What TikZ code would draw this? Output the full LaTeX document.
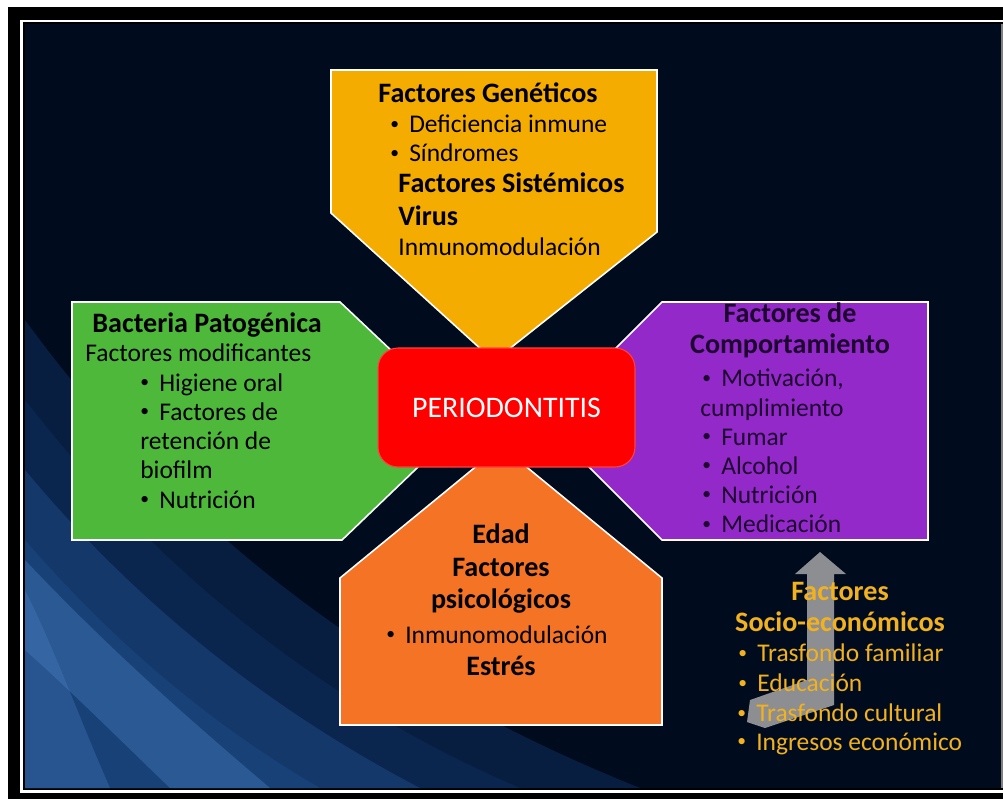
\documentclass[tikz,border=0pt]{standalone}
\usepackage{fontspec}
\setmainfont{Carlito}
\usetikzlibrary{backgrounds}
\definecolor{nightbg}{HTML}{010B1E}
\definecolor{glowdim}{HTML}{0D2C58}
\definecolor{glowmid}{HTML}{1D4A86}
\definecolor{glowlight}{HTML}{4F86C8}
\definecolor{genyellow}{HTML}{F5AC00}
\definecolor{bacgreen}{HTML}{4DB83A}
\definecolor{behpurple}{HTML}{9429C9}
\definecolor{ageorange}{HTML}{F57325}
\definecolor{socgold}{HTML}{F2B11E}
\definecolor{purpletext}{HTML}{1E0630}
\newcommand{\headsize}{\fontsize{16}{18}\selectfont\bfseries}
\newcommand{\bodysize}{\fontsize{14.5}{17}\selectfont}
\newcommand{\rim}{0.9pt}
\newcommand{\dotmark}{\raisebox{0.12em}{\fontsize{10}{10}\selectfont\textbullet}\hspace{0.4em}}
\tikzset{
  headline/.style={anchor=base west, inner sep=0pt, font=\headsize},
  bodyline/.style={anchor=base west, inner sep=0pt, font=\bodysize},
  headmid/.style={anchor=base, inner sep=0pt, font=\headsize},
  factorbox/.style={draw=white, line width=\rim, line join=miter},
}

\begin{document}
\begin{tikzpicture}[x=0.02cm, y=-0.02cm]
\useasboundingbox (0,0) rectangle (1003,799);
% frame
\fill[white] (0,0) rectangle (1003,799);
\fill[black] (8,7) rectangle (1003,799);
\draw[white, line width=1.4pt] (21.5,21) rectangle (1012,791.5);
\fill[nightbg] (25,24) rectangle (1001,788);
\fill[gray] (1001,24) rectangle (1003,788);
% blue glow, lower left
\begin{scope}
\clip (25,24) rectangle (1001,788);
\fill[glowdim, opacity=0.6] (25,320) .. controls (200,560) and (420,700) .. (640,788) -- (25,788) -- cycle;
\fill[glowdim, opacity=0.6] (25,400) .. controls (180,600) and (360,720) .. (520,788) -- (25,788) -- cycle;
\fill[glowmid, opacity=0.5] (25,470) .. controls (150,620) and (290,720) .. (420,788) -- (25,788) -- cycle;
\fill[glowmid, opacity=0.5] (25,540) .. controls (120,650) and (220,730) .. (320,788) -- (25,788) -- cycle;
\fill[glowlight, opacity=0.35] (25,560) .. controls (110,650) and (190,720) .. (270,788) -- (170,788) .. controls (120,740) and (70,690) .. (25,650) -- cycle;
\fill[glowlight, opacity=0.3] (25,590) .. controls (55,650) and (80,720) .. (110,788) -- (25,788) -- cycle;
\end{scope}

% the four factor boxes
\fill[genyellow, factorbox] (331,70) -- (657,70) -- (657,232) -- (494,361) -- (331,213) -- cycle;
\fill[bacgreen, factorbox] (72,302) -- (340,302) -- (466,421) -- (342,540) -- (72,540) -- cycle;
\fill[behpurple, factorbox] (928,302) -- (662,302) -- (543,421) -- (662,540) -- (928,540) -- cycle;
\fill[ageorange, factorbox] (340,725) -- (662,725) -- (662,578) -- (501,446) -- (340,578) -- cycle;

% centre
\node[fill=red, draw=red!75!white, line width=0.6pt, rounded corners=0.4cm,
      minimum width=5.14cm, minimum height=2.38cm, text=white,
      font=\fontsize{17}{20}\selectfont] (perio) at (506.5,407.5) {PERIODONTITIS};

% Factores Geneticos
\node[headline] (gen1) at (378,102.7) {Factores Genéticos};
\node[bodyline] (gen2) at (390,132.7) {\dotmark Deficiencia inmune};
\node[bodyline] (gen3) at (390,161.7) {\dotmark Síndromes};
\node[headline] (gen4) at (398,192.7) {Factores Sistémicos};
\node[headline] (gen5) at (398,225) {Virus};
\node[bodyline] (gen6) at (398,255) {Inmunomodulación};

% Bacteria
\node[headline] (bac1) at (92,332.7) {Bacteria Patogénica};
\node[bodyline] (bac2) at (85,361.7) {Factores modificantes};
\node[bodyline] (bac3) at (140,391) {\dotmark Higiene oral};
\node[bodyline] (bac4) at (140,420) {\dotmark Factores de};
\node[bodyline] (bac5) at (140,449) {retención de};
\node[bodyline] (bac6) at (140,478) {biofilm};
\node[bodyline] (bac7) at (140,508) {\dotmark Nutrición};

% Comportamiento
\node[headmid, text=purpletext] (beh1) at (790,322.7) {Factores de};
\node[headmid, text=purpletext] (beh2) at (790,353) {Comportamiento};
\node[bodyline, text=purpletext] (beh3) at (702,386.7) {\dotmark Motivación,};
\node[bodyline, text=purpletext] (beh4) at (700,416) {cumplimiento};
\node[bodyline, text=purpletext] (beh5) at (702,445) {\dotmark Fumar};
\node[bodyline, text=purpletext] (beh6) at (702,474) {\dotmark Alcohol};
\node[bodyline, text=purpletext] (beh7) at (702,503) {\dotmark Nutrición};
\node[bodyline, text=purpletext] (beh8) at (702,532.7) {\dotmark Medicación};

% Edad
\node[headmid] (age1) at (501,543) {Edad};
\node[headmid] (age2) at (501,576.7) {Factores};
\node[headmid] (age3) at (501,608) {psicológicos};
\node[bodyline, anchor=base] (age4) at (497,643) {\dotmark Inmunomodulación};
\node[headmid] (age5) at (501,675) {Estrés};

% grey arrow behind the socio-economic factors
\fill[gray!70!white, opacity=0.85] (820,552) -- (846,574) -- (834,574) -- (834,705)
  -- (765,728) -- (747,722) -- (750,700) -- (807,680) -- (807,574) -- (795,574) -- cycle;

% Socio-economicos
\node[headmid, text=socgold] (soc1) at (840,600) {Factores};
\node[headmid, text=socgold] (soc2) at (840,631.7) {Socio-económicos};
\node[bodyline, text=socgold] (soc3) at (738,661.7) {\dotmark Trasfondo familiar};
\node[bodyline, text=socgold] (soc4) at (738,691.7) {\dotmark Educación};
\node[bodyline, text=socgold] (soc5) at (737,721.7) {\dotmark Trasfondo cultural};
\node[bodyline, text=socgold] (soc6) at (737,750) {\dotmark Ingresos económico};
\end{tikzpicture}
\end{document}
